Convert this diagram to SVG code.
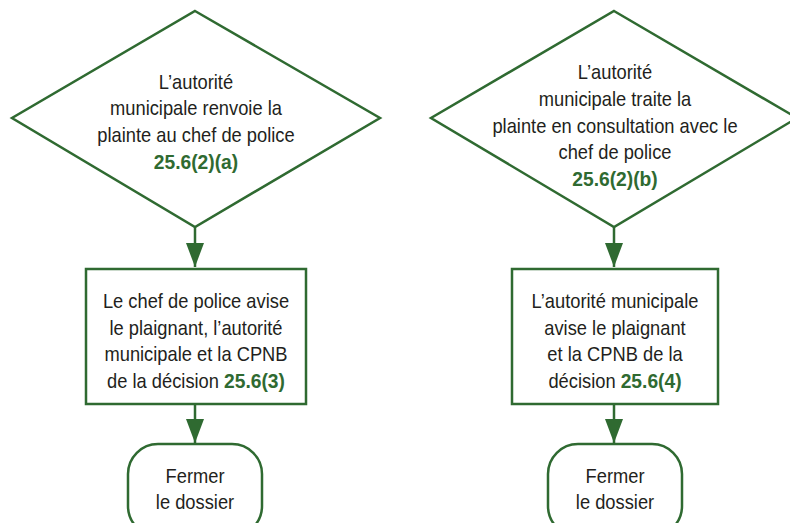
<svg xmlns="http://www.w3.org/2000/svg" width="790" height="523" viewBox="0 0 790 523">
  <style>
    .shape { fill: #ffffff; stroke: #2f6a31; stroke-width: 2.5; }
    .edge { stroke: #2f6a31; stroke-width: 2.5; fill: none; }
    .lbl { font-family: "Liberation Sans", Arial, sans-serif; font-size: 20px; fill: #231f20; text-anchor: middle; }
    .ref { font-weight: bold; fill: #2f6a31; font-size: 21px; }
  </style>
  <defs>
    <marker id="arrow" markerUnits="userSpaceOnUse" markerWidth="24" markerHeight="18" refX="24" refY="9" viewBox="0 0 24 18" orient="auto">
      <path d="M0,0 L24,9 L0,18 Z" fill="#2f6a31"/>
    </marker>
  </defs>

  <rect width="790" height="523" fill="#ffffff"/>

  <!-- connectors -->
  <g id="connectors">
    <line class="edge" x1="195" y1="227" x2="195" y2="267" marker-end="url(#arrow)"/>
    <line class="edge" x1="195" y1="404" x2="195" y2="443" marker-end="url(#arrow)"/>
    <line class="edge" x1="614" y1="227" x2="614" y2="267" marker-end="url(#arrow)"/>
    <line class="edge" x1="614" y1="404" x2="614" y2="443" marker-end="url(#arrow)"/>
  </g>

  <!-- left column -->
  <g id="decision-renvoi">
    <polygon class="shape" points="195,11 380,118 195,227 12,118"/>
    <g transform="translate(196,0) scale(0.916,1)">
      <text class="lbl" x="0" y="89">L’autorité</text>
      <text class="lbl" x="0" y="115">municipale renvoie la</text>
      <text class="lbl" x="0" y="142">plainte au chef de police</text>
      <text class="lbl ref" x="0" y="169">25.6(2)(a)</text>
    </g>
  </g>

  <g id="avis-chef">
    <rect class="shape" x="86" y="269" width="220" height="135"/>
    <g transform="translate(196,0) scale(0.916,1)">
      <text class="lbl" x="0" y="308">Le chef de police avise</text>
      <text class="lbl" x="0" y="335">le plaignant, l’autorité</text>
      <text class="lbl" x="0" y="361">municipale et la CPNB</text>
      <text class="lbl" x="0" y="388">de la décision <tspan class="ref">25.6(3)</tspan></text>
    </g>
  </g>

  <g id="fermer-gauche">
    <rect class="shape" x="128" y="444" width="134" height="92" rx="30"/>
    <g transform="translate(195,0) scale(0.916,1)">
      <text class="lbl" x="0" y="483">Fermer</text>
      <text class="lbl" x="0" y="509">le dossier</text>
    </g>
  </g>

  <!-- right column -->
  <g id="decision-traite">
    <polygon class="shape" points="614,11 797,118 614,227 431,118"/>
    <g transform="translate(615,0) scale(0.916,1)">
      <text class="lbl" x="0" y="79">L’autorité</text>
      <text class="lbl" x="0" y="106">municipale traite la</text>
      <text class="lbl" x="0" y="133">plainte en consultation avec le</text>
      <text class="lbl" x="0" y="159">chef de police</text>
      <text class="lbl ref" x="0" y="186">25.6(2)(b)</text>
    </g>
  </g>

  <g id="avis-autorite">
    <rect class="shape" x="512" y="269" width="206" height="135"/>
    <g transform="translate(615,0) scale(0.916,1)">
      <text class="lbl" x="0" y="308">L’autorité municipale</text>
      <text class="lbl" x="0" y="335">avise le plaignant</text>
      <text class="lbl" x="0" y="361">et la CPNB de la</text>
      <text class="lbl" x="0" y="388">décision  <tspan class="ref">25.6(4)</tspan></text>
    </g>
  </g>

  <g id="fermer-droite">
    <rect class="shape" x="548" y="444" width="134" height="92" rx="30"/>
    <g transform="translate(615,0) scale(0.916,1)">
      <text class="lbl" x="0" y="483">Fermer</text>
      <text class="lbl" x="0" y="509">le dossier</text>
    </g>
  </g>
</svg>
